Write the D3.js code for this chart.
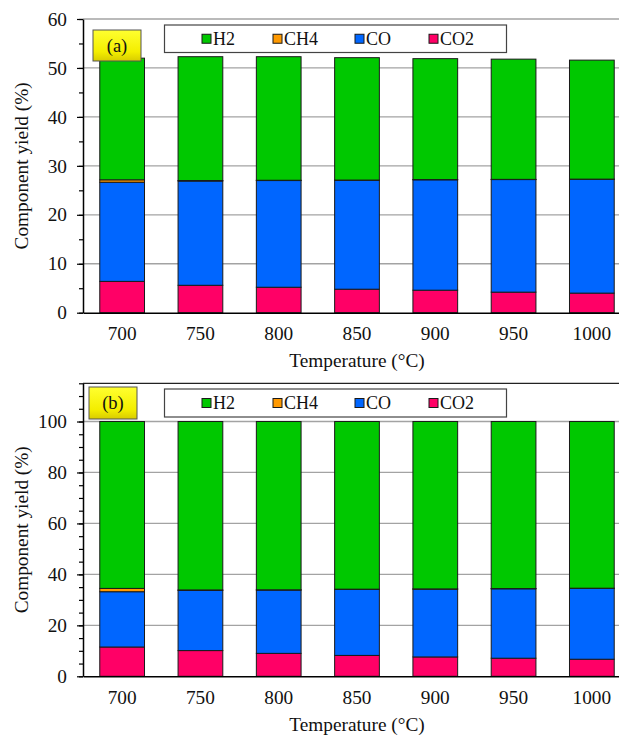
<!DOCTYPE html>
<html>
<head>
<meta charset="utf-8">
<script src="https://cdn.jsdelivr.net/npm/d3@7/dist/d3.min.js"></script>
<style>
  html, body { margin: 0; padding: 0; background: #fff; }
  svg { display: block; }
  svg text { font-family: "Liberation Serif", "Times New Roman", serif; fill: #111; }
</style>
</head>
<body>
<svg id="chart" width="619" height="735"></svg>
<script>
// Temperatures (°C) on the x axis
const temperatures = ["700", "750", "800", "850", "900", "950", "1000"];
const components = ["H2", "CH4", "CO", "CO2"];          // legend order
const stackOrder = ["CO2", "CO", "CH4", "H2"];          // bottom to top

// Panel (a): component yield (%)
const co2A = [6.4, 5.6, 5.2, 4.8, 4.6, 4.2, 4.0];
const coA  = [20.25, 21.3, 21.8, 22.25, 22.55, 23.0, 23.25];
const ch4A = [0.5, 0.1, 0.06, 0.05, 0.05, 0.04, 0.04];
const h2A  = [24.85, 25.3, 25.24, 25.0, 24.7, 24.56, 24.31];

// Panel (b): component yield (%), normalised
const co2B = [11.5, 10.1, 9.0, 8.2, 7.6, 7.1, 6.7];
const coB  = [21.7, 23.6, 24.85, 25.9, 26.6, 27.25, 27.8];
const ch4B = [1.3, 0.2, 0.1, 0.1, 0.1, 0.08, 0.08];
const h2B  = [65.5, 66.1, 66.05, 65.8, 65.7, 65.57, 65.42];

const yTicksA = [0, 10, 20, 30, 40, 50, 60];
const yTicksB = [0, 20, 40, 60, 80, 100];

const colors = { H2: "#00c800", CH4: "#ff9900", CO: "#0066ff", CO2: "#ff0066" };
const FONT = "'Liberation Serif', 'Times New Roman', serif";
const FS = 19.3;

const svg = d3.select("#chart");

const defs = svg.append("defs");
const grad = defs.append("linearGradient").attr("id", "tagFill")
  .attr("x1", 0).attr("y1", 0).attr("x2", 0).attr("y2", 1);
grad.append("stop").attr("offset", "0%").attr("stop-color", "#ffff30");
grad.append("stop").attr("offset", "70%").attr("stop-color", "#f4ee00");
grad.append("stop").attr("offset", "100%").attr("stop-color", "#d8cc00");

function buildRows(co2, co, ch4, h2) {
  return temperatures.map((t, i) => ({ T: t, CO2: co2[i], CO: co[i], CH4: ch4[i], H2: h2[i] }));
}

function drawPanel(cfg) {
  const g = svg.append("g").attr("font-family", FONT);
  const x = d3.scaleBand().domain(temperatures)
    .range([cfg.left, cfg.right]).paddingInner(0.4286).paddingOuter(0.2143);
  const y = d3.scaleLinear().domain([0, cfg.yMax]).range([cfg.bottom, cfg.top]);

  // horizontal gridlines
  g.append("g").selectAll("line").data(cfg.yTicks.filter(v => v > 0)).join("line")
    .attr("x1", cfg.left).attr("x2", cfg.right)
    .attr("y1", d => y(d)).attr("y2", d => y(d))
    .attr("stroke", "#a3a3a3").attr("stroke-width", 1.3);

  if (cfg.topLine) {
    g.append("line").attr("x1", cfg.left).attr("x2", cfg.right)
      .attr("y1", cfg.top).attr("y2", cfg.top)
      .attr("stroke", "#222").attr("stroke-width", 1.2);
  }

  // stacked bars
  const rows = buildRows(...cfg.series);
  const stacked = d3.stack().keys(stackOrder)(rows);
  g.append("g").selectAll("g").data(stacked).join("g")
    .attr("fill", s => colors[s.key])
    .selectAll("rect").data(s => s).join("rect")
    .attr("x", d => x(d.data.T))
    .attr("width", x.bandwidth())
    .attr("y", d => y(d[1]))
    .attr("height", d => y(d[0]) - y(d[1]))
    .attr("stroke", "#1a1a1a").attr("stroke-width", 1);

  // minor ticks
  const minor = d3.range(0, cfg.yMax + 0.001, cfg.minorStep);
  g.append("g").attr("transform", `translate(${cfg.left},0)`)
    .call(d3.axisLeft(y).tickValues(minor).tickSize(4).tickSizeOuter(0).tickFormat(""))
    .call(a => a.select(".domain").remove())
    .call(a => a.selectAll("line").attr("stroke", "#000").attr("stroke-width", 1.2));

  // y axis
  g.append("g").attr("transform", `translate(${cfg.left},0)`)
    .call(d3.axisLeft(y).tickValues(cfg.yTicks).tickSize(6).tickSizeOuter(0).tickPadding(10))
    .call(a => a.attr("font-family", FONT))
    .call(a => a.select(".domain").attr("stroke", "#000").attr("stroke-width", 1.5))
    .call(a => a.selectAll("line").attr("stroke", "#000").attr("stroke-width", 1.2))
    .call(a => a.selectAll("text").attr("font-size", FS).attr("fill", "#111"));

  // x axis
  g.append("g").attr("transform", `translate(0,${cfg.bottom})`)
    .call(d3.axisBottom(x).tickSize(0).tickPadding(14))
    .call(a => a.attr("font-family", FONT))
    .call(a => a.select(".domain").attr("stroke", "#000").attr("stroke-width", 1.5))
    .call(a => a.selectAll("text").attr("font-size", FS).attr("fill", "#111"));

  // axis titles
  g.append("text").attr("x", (cfg.left + cfg.right) / 2).attr("y", cfg.xTitleY)
    .attr("text-anchor", "middle").attr("font-size", FS).text("Temperature (°C)");
  g.append("text")
    .attr("transform", `translate(28,${(cfg.top + cfg.bottom) / 2}) rotate(-90)`)
    .attr("text-anchor", "middle").attr("font-size", FS).text("Component yield (%)");

  // panel tag
  const tg = g.append("g");
  tg.append("rect").attr("x", cfg.tag.x).attr("y", cfg.tag.y)
    .attr("width", cfg.tag.w).attr("height", cfg.tag.h)
    .attr("fill", "url(#tagFill)").attr("stroke", "#555").attr("stroke-width", 1);
  tg.append("text").attr("x", cfg.tag.x + cfg.tag.w / 2).attr("y", cfg.tag.y + cfg.tag.h / 2 + 6)
    .attr("text-anchor", "middle").attr("font-size", 18.5).text(cfg.tag.label);

  // legend
  const lg = g.append("g");
  lg.append("rect").attr("x", cfg.legend.x).attr("y", cfg.legend.y)
    .attr("width", cfg.legend.w).attr("height", cfg.legend.h)
    .attr("fill", "#fff").attr("stroke", "#444").attr("stroke-width", 1.2);
  const itemX = [202, 273, 355, 429];
  const items = lg.selectAll("g.item").data(components).join("g")
    .attr("transform", (d, i) => `translate(${itemX[i]},${cfg.legend.y + cfg.legend.h / 2})`);
  items.append("rect").attr("x", 0).attr("y", -4.5).attr("width", 9).attr("height", 9)
    .attr("fill", d => colors[d]).attr("stroke", "#1a1a1a").attr("stroke-width", 1);
  items.append("text").attr("x", 11).attr("y", 6).attr("font-size", 18).text(d => d);
}

drawPanel({
  left: 83, right: 631, top: 19, bottom: 312.7, yMax: 60, minorStep: 5,
  yTicks: yTicksA, series: [co2A, coA, ch4A, h2A], xTitleY: 367, topLine: false,
  tag: { x: 93, y: 30, w: 48, h: 31, label: "(a)" },
  legend: { x: 164.5, y: 25, w: 342, h: 27.5 }
});

drawPanel({
  left: 83, right: 631, top: 383.3, bottom: 676.3, yMax: 115, minorStep: 5,
  yTicks: yTicksB, series: [co2B, coB, ch4B, h2B], xTitleY: 731, topLine: true,
  tag: { x: 89, y: 387, w: 48, h: 32, label: "(b)" },
  legend: { x: 164.5, y: 389, w: 342, h: 28 }
});
</script>
</body>
</html>
